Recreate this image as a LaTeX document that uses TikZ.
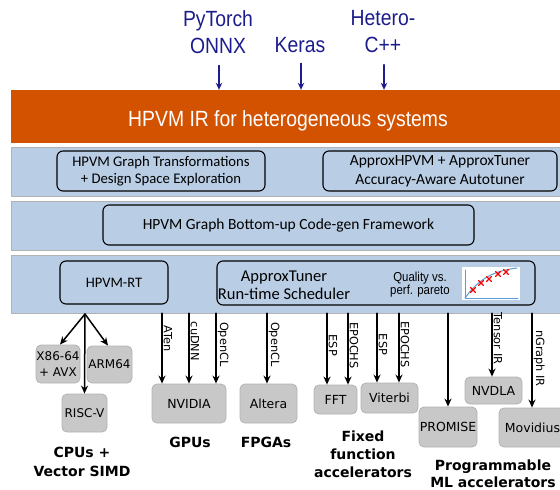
\documentclass[tikz,border=0pt]{standalone}
\usepackage{fontspec}
\usetikzlibrary{arrows.meta, positioning, calc}
\newfontfamily\arialn[FakeStretch=0.88]{Liberation Sans}
\newfontfamily\calib{Carlito}
\newfontfamily\verd{DejaVu Sans}
\definecolor{irorange}{HTML}{D35200}
\definecolor{bandblue}{HTML}{B9CDE5}
\definecolor{srcnavy}{RGB}{28,28,140}
\definecolor{hwgray}{RGB}{200,200,200}
\definecolor{hwedge}{RGB}{178,178,178}
\definecolor{paretoblue}{RGB}{91,155,213}

\begin{document}
\begin{tikzpicture}[x=1pt, y=-1pt, line cap=round, line join=round,
    band/.style={draw=black!30, line width=0.5pt, fill=bandblue, inner sep=0pt},
    swbox/.style={draw, line width=1.1pt, rounded corners=6pt, inner sep=0pt, align=center},
    hwbox/.style={draw=hwedge, fill=hwgray, line width=0.8pt, rounded corners=5pt,
      inner sep=0pt, align=center, font=\verd\fontsize{12.5}{16}\selectfont},
    src/.style={text=srcnavy, font=\arialn\fontsize{22}{27}\selectfont, align=center, inner sep=0pt},
    cat/.style={font=\verd\bfseries\fontsize{14}{18}\selectfont, align=center, inner sep=0pt},
    arr/.style={-{Stealth[length=8pt, width=7pt]}, line width=1.5pt},
    srcarr/.style={-{Stealth[length=7pt, width=6.5pt]}, line width=1.5pt, draw=srcnavy},
    vlbl/.style={font=\verd\fontsize{11.3}{12}\selectfont, rotate=-90, anchor=south, inner sep=1pt}]
  \useasboundingbox (0,0) rectangle (560,490);
  \clip (0,0) rectangle (560,490);

  % front ends
  \node[src, anchor=north] (pytorch) at (218,10) {PyTorch\\ONNX};
  \node[src, anchor=base] (keras) at (300,52) {Keras};
  \node[src, anchor=north] (hetero) at (383,10) {Hetero-\\C++};

  \node[fill=irorange, minimum width=549pt, minimum height=53pt, inner sep=0pt] (ir) at (285.5,116.5) {};
  \node[anchor=base, text=white, font=\arialn\fontsize{22}{26}\selectfont] (irtext) at (288,126)
      {HPVM IR for heterogeneous systems};

  \draw[srcarr] ([yshift=-12pt]pytorch.south -| 219,0) -- (ir.north -| 219,0);
  \draw[srcarr] (keras.south -| 301,0) ++(0,11) -- (ir.north -| 301,0);
  \draw[srcarr] ([yshift=-12pt]hetero.south -| 384,0) -- (ir.north -| 384,0);

  \node[band, minimum width=549pt, minimum height=49pt] (band1) at (285.5,171.5) {};
  \node[band, minimum width=549pt, minimum height=49pt] (band2) at (285.5,225.5) {};
  \node[band, minimum width=549pt, minimum height=58pt] (band3) at (285.5,284) {};

  \node[swbox, minimum width=208pt, minimum height=40pt, font=\calib\fontsize{14.7}{17}\selectfont]
      (xform) at (161,171) {HPVM Graph Transformations\\+ Design Space Exploration};
  \node[swbox, minimum width=234pt, minimum height=40pt, font=\calib\fontsize{15.5}{19}\selectfont]
      (approx) at (440,171) {ApproxHPVM + ApproxTuner\\Accuracy-Aware Autotuner};
  \node[swbox, minimum width=371pt, minimum height=40pt, font=\calib\fontsize{15.5}{19}\selectfont]
      (codegen) at (288.5,225) {HPVM Graph Bottom-up Code-gen Framework};
  \node[swbox, minimum width=108pt, minimum height=43pt, font=\calib\fontsize{14.5}{17}\selectfont]
      (rt) at (114,282.5) {HPVM-RT};
  \node[swbox, minimum width=318pt, minimum height=44pt] (sched) at (376,283) {};
  \node[align=center, inner sep=0pt, font=\calib\fontsize{16.5}{18}\selectfont]
      (schedtext) at (284,285) {ApproxTuner\\Run-time Scheduler};
  \node[align=center, inner sep=0pt, font=\arialn\fontsize{13}{13}\selectfont]
      (pareto) at (420,285) {Quality vs.\\perf. pareto};

  % little pareto plot
  \fill[white] (462,267) rectangle (520,300);
  \draw[paretoblue, line width=1pt] (465,270) -- (465,298) -- (518,298);
  \draw[paretoblue, line width=1pt] (465,298) .. controls (478,280) and (492,271) .. (517,268);
  \foreach \px/\py in {473/290, 481/283, 489/279, 498/274, 506/272}
    \draw[red, line width=1.2pt] (\px-2.5,\py-2.5) -- (\px+2.5,\py+2.5)
      (\px-2.5,\py+2.5) -- (\px+2.5,\py-2.5);

  % hardware targets
  \node[hwbox, minimum width=44pt, minimum height=38pt, font=\verd\fontsize{12}{16}\selectfont]
      (x86) at (58,364) {X86-64\\+ AVX};
  \node[hwbox, minimum width=45pt, minimum height=37pt, font=\verd\fontsize{12}{16}\selectfont]
      (arm) at (109.5,364.5) {ARM64};
  \node[hwbox, minimum width=45pt, minimum height=38pt, font=\verd\fontsize{12}{16}\selectfont]
      (riscv) at (84.5,413) {RISC-V};
  \node[hwbox, minimum width=74pt, minimum height=39pt] (nvidia) at (189,403.5) {NVIDIA};
  \node[hwbox, minimum width=57pt, minimum height=39pt] (altera) at (268.5,403.5) {Altera};
  \node[hwbox, minimum width=43pt, minimum height=29pt] (fft) at (335.5,399.5) {FFT};
  \node[hwbox, minimum width=57pt, minimum height=30pt] (viterbi) at (389.5,398) {Viterbi};
  \node[hwbox, minimum width=58pt, minimum height=40pt] (promise) at (448,427) {PROMISE};
  \node[hwbox, minimum width=57pt, minimum height=27pt] (nvdla) at (493.5,390.5) {NVDLA};
  \node[hwbox, minimum width=67pt, minimum height=39pt] (movidius) at (532.5,427.5) {Movidius};

  \coordinate (cpuhub) at (85,314);
  \draw[arr] (cpuhub) -- ([xshift=2pt]x86.north);
  \draw[arr] (cpuhub) -- ([xshift=-1.5pt]arm.north);
  \draw[arr] (cpuhub) -- (riscv.north);

  \draw[arr] (band3.south -| 162,0) -- (nvidia.north -| 162,0) node[vlbl, pos=0.36] {ATen};
  \draw[arr] (band3.south -| 189,0) -- (nvidia.north -| 189,0) node[vlbl, pos=0.40] {cuDNN};
  \draw[arr] (band3.south -| 216,0) -- (nvidia.north -| 216,0) node[vlbl, pos=0.44] {OpenCL};
  \draw[arr] (band3.south -| 267,0) -- (altera.north -| 267,0) node[vlbl, pos=0.44] {OpenCL};
  \draw[arr] (band3.south -| 327,0) -- (fft.north -| 327,0) node[vlbl, pos=0.45] {ESP};
  \draw[arr] (band3.south -| 348,0) -- (fft.north -| 348,0) node[vlbl, pos=0.45] {EPOCHS};
  \draw[arr] (band3.south -| 377,0) -- (viterbi.north -| 377,0) node[vlbl, pos=0.45] {ESP};
  \draw[arr] (band3.south -| 399,0) -- (viterbi.north -| 399,0) node[vlbl, pos=0.45] {EPOCHS};
  \draw[arr] (band3.south -| 448,0) -- (promise.north -| 448,0);
  \draw[arr] (band3.south -| 492,0) -- (nvdla.north -| 492,0) node[vlbl, pos=0.40] {Tensor IR};
  \draw[arr] (band3.south -| 532,0) -- (movidius.north -| 532,0) node[vlbl, pos=0.48] {nGraph IR};

  \node[cat, anchor=north] (cpus) at (82,446.8) {CPUs +\\[1pt]Vector SIMD};
  \node[cat, anchor=base] (gpus) at (190,447) {GPUs};
  \node[cat, anchor=base] (fpgas) at (266,447) {FPGAs};
  \node[cat, anchor=north] (fixed) at (363,430.4) {Fixed\\function\\accelerators};
  \node[cat, anchor=north] (progml) at (493,459.4) {Programmable\\[-1pt]ML accelerators};
\end{tikzpicture}
\end{document}
